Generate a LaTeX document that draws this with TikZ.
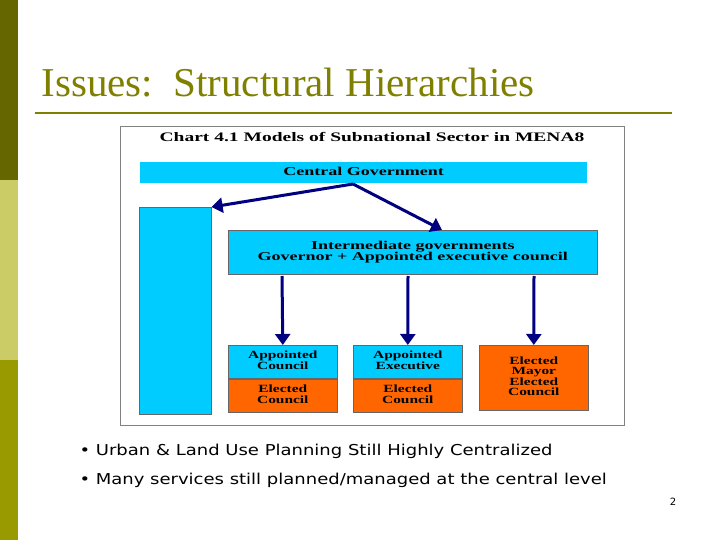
\documentclass[tikz,border=0pt]{standalone}
\usepackage{fontspec}
\usepackage{graphicx}
\setmainfont{Liberation Serif}
\newfontfamily\arialf{DejaVu Sans}
\usetikzlibrary{arrows.meta}
\definecolor{cyanb}{HTML}{00CCFF}
\definecolor{orangeb}{HTML}{FF6600}
\definecolor{navy}{HTML}{000080}
\definecolor{olivet}{HTML}{808000}
\definecolor{sbA}{HTML}{666600}
\definecolor{sbB}{HTML}{CCCC66}
\definecolor{sbC}{HTML}{999900}
\newcommand{\wtext}[2]{\scalebox{#1}[1]{\renewcommand\arraystretch{0.8}\begin{tabular}{@{}c@{}}#2\end{tabular}}}
\begin{document}
\begin{tikzpicture}[x=1pt,y=-1pt,
 box/.style={draw=black!60,line width=0.6pt,inner sep=0pt,font=\bfseries\fontsize{11}{12}\selectfont,align=center},
 cbox/.style={box,fill=cyanb},
 obox/.style={box,fill=orangeb},
 arr/.style={navy,line width=3pt,-{Triangle[length=11pt,width=15pt]}}]
\useasboundingbox (0,0) rectangle (720,540);
\fill[white] (0,0) rectangle (720,540);
\fill[sbA] (0,0) rectangle (18,180);
\fill[sbB] (0,180) rectangle (18,360);
\fill[sbC] (0,360) rectangle (18,540);
\node[anchor=west,text=olivet,font=\fontsize{41}{44}\selectfont] (title) at (38,83) {Issues:\ \ Structural Hierarchies};
\draw[olivet,line width=1.2pt] (35,113) -- (672,113);
\node[draw=black!50,line width=0.8pt,minimum width=504pt,minimum height=299pt,anchor=north west] (frame) at (120,126) {};
\node[font=\bfseries\fontsize{13}{14}\selectfont] (ct) at (372,139) {\wtext{1.5}{Chart 4.1 Models of Subnational Sector in MENA8}};
\node[fill=cyanb,minimum width=447pt,minimum height=21pt,anchor=north west,font=\bfseries\fontsize{12}{13}\selectfont] (cg) at (140,162) {\wtext{1.5}{Central Government}};
\node[cbox,minimum width=72pt,minimum height=207pt,anchor=north west] (tall) at (139,207) {};
\node[cbox,minimum width=369pt,minimum height=44pt,anchor=north west,font=\bfseries\fontsize{12}{13}\selectfont] (ig) at (228,230) {\wtext{1.5}{Intermediate governments\\Governor + Appointed executive council}};
\node[cbox,minimum width=109pt,minimum height=33pt,anchor=north west] (ac) at (228,345) {\wtext{1.4}{Appointed\\Council}};
\node[obox,minimum width=109pt,minimum height=33pt,anchor=north west] (ec1) at (228,379) {\wtext{1.4}{Elected\\Council}};
\node[cbox,minimum width=109pt,minimum height=33pt,anchor=north west] (ae) at (353,345) {\wtext{1.4}{Appointed\\Executive}};
\node[obox,minimum width=109pt,minimum height=33pt,anchor=north west] (ec2) at (353,379) {\wtext{1.4}{Elected\\Council}};
\node[obox,minimum width=109pt,minimum height=65pt,anchor=north west] (em) at (479,345) {\wtext{1.4}{Elected\\Mayor\\Elected\\Council}};
\coordinate (src) at (353,184);
\draw[arr] (src) -- (tall.north east);
\draw[arr] (src) -- (442,230);
\draw[arr] (282,276) -- (ac.north);
\draw[arr] (408,276) -- (ae.north);
\draw[arr] (534,276) -- (em.north);
\node[anchor=west,font=\arialf\fontsize{15}{17}\selectfont] (b1) at (76,451) {\scalebox{1.2}[1]{\textbullet\ Urban \& Land Use Planning Still Highly Centralized}};
\node[anchor=west,font=\arialf\fontsize{15}{17}\selectfont] (b2) at (76,480) {\scalebox{1.2}[1]{\textbullet\ Many services still planned/managed at the central level}};
\node[font=\arialf\fontsize{10}{12}\selectfont] (pg) at (673,502) {2};
\end{tikzpicture}
\end{document}
